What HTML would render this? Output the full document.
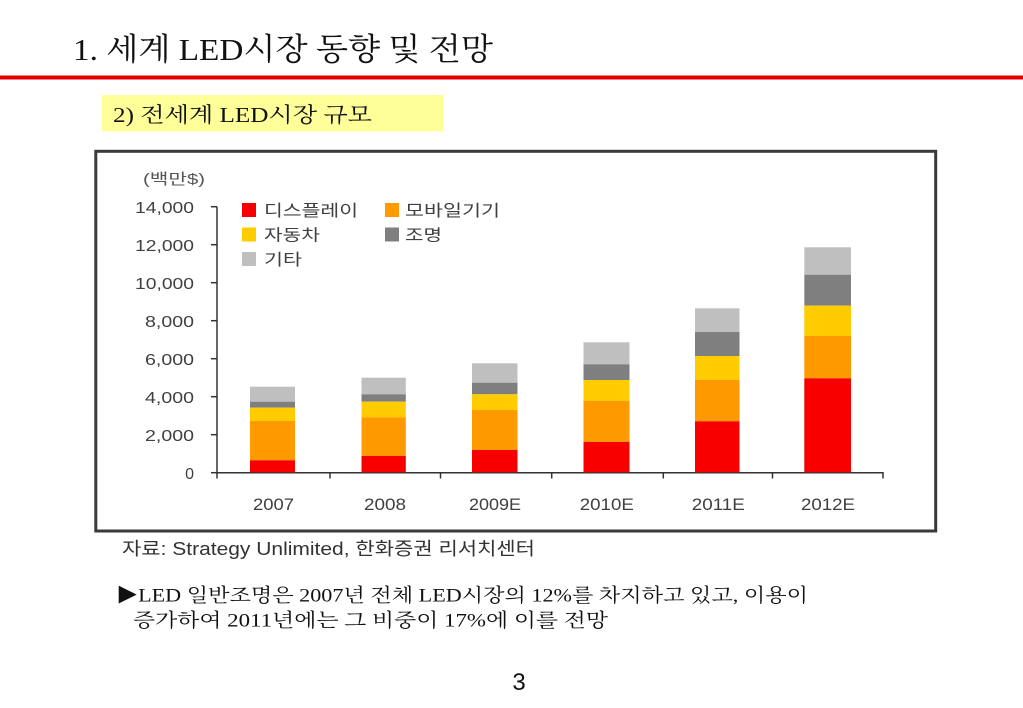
<!DOCTYPE html>
<html>
<head>
<meta charset="utf-8">
<style>
  html, body { margin:0; padding:0; background:#fff; }
  body { width:1023px; height:708px; overflow:hidden; }
  svg { display:block; }
  .serif { font-family: "Liberation Serif", "Noto Serif CJK SC", serif; }
  .sans { font-family: "Liberation Sans", "Noto Sans CJK KR", sans-serif; }
</style>
</head>
<body>
<svg width="1023" height="708" viewBox="0 0 1023 708" xmlns="http://www.w3.org/2000/svg">
  <rect x="0" y="0" width="1023" height="708" fill="#ffffff"/>

  <!-- Title -->
  <text class="serif" x="73" y="60" font-size="31" fill="#111" textLength="420" lengthAdjust="spacingAndGlyphs">1. 세계 LED시장 동향 및 전망</text>
  <rect x="0" y="75.5" width="1023" height="4" fill="#e40000"/>

  <!-- Subtitle box -->
  <rect x="102" y="95" width="341" height="36.5" fill="#ffff99"/>
  <text class="serif" x="113" y="122" font-size="21" fill="#111" textLength="259" lengthAdjust="spacingAndGlyphs">2) 전세계 LED시장 규모</text>

  <!-- Chart frame -->
  <rect x="95.8" y="151.3" width="839.9" height="379.7" fill="#ffffff" stroke="#3a3a3a" stroke-width="3"/>

  <!-- Unit label -->
  <text class="sans" x="143" y="184" font-size="15" fill="#555" textLength="62" lengthAdjust="spacingAndGlyphs">(백만$)</text>

  <!-- Y tick labels -->
  <g class="sans" font-size="16" fill="#404040" text-anchor="end">
    <text x="194" y="213" textLength="59" lengthAdjust="spacingAndGlyphs">14,000</text>
    <text x="194" y="251" textLength="59" lengthAdjust="spacingAndGlyphs">12,000</text>
    <text x="194" y="289" textLength="59" lengthAdjust="spacingAndGlyphs">10,000</text>
    <text x="194" y="327" textLength="49" lengthAdjust="spacingAndGlyphs">8,000</text>
    <text x="194" y="365" textLength="49" lengthAdjust="spacingAndGlyphs">6,000</text>
    <text x="194" y="403" textLength="49" lengthAdjust="spacingAndGlyphs">4,000</text>
    <text x="194" y="441" textLength="49" lengthAdjust="spacingAndGlyphs">2,000</text>
    <text x="194" y="479">0</text>
  </g>

  <!-- Axes -->
  <g stroke="#333" stroke-width="1.5" fill="none">
    <line x1="217" y1="206.7" x2="217" y2="473.3"/>
    <line x1="216.3" y1="472.7" x2="883.7" y2="472.7"/>
    <line x1="211" y1="206.7" x2="217" y2="206.7"/>
    <line x1="211" y1="244.7" x2="217" y2="244.7"/>
    <line x1="211" y1="282.7" x2="217" y2="282.7"/>
    <line x1="211" y1="320.7" x2="217" y2="320.7"/>
    <line x1="211" y1="358.7" x2="217" y2="358.7"/>
    <line x1="211" y1="396.7" x2="217" y2="396.7"/>
    <line x1="211" y1="434.7" x2="217" y2="434.7"/>
    <line x1="211" y1="472.7" x2="217" y2="472.7"/>
    <line x1="217" y1="472.7" x2="217" y2="478.5"/>
    <line x1="330" y1="472.7" x2="330" y2="478.5"/>
    <line x1="440.5" y1="472.7" x2="440.5" y2="478.5"/>
    <line x1="551.7" y1="472.7" x2="551.7" y2="478.5"/>
    <line x1="663.3" y1="472.7" x2="663.3" y2="478.5"/>
    <line x1="772.5" y1="472.7" x2="772.5" y2="478.5"/>
    <line x1="883" y1="472.7" x2="883" y2="478.5"/>
  </g>

  <!-- Bars -->
  <!-- 2007 -->
  <g>
    <rect x="250" y="386.7" width="45" height="15" fill="#bfbfbf"/>
    <rect x="250" y="401.7" width="45" height="6" fill="#7f7f7f"/>
    <rect x="250" y="407.7" width="45" height="13.3" fill="#ffcc00"/>
    <rect x="250" y="421" width="45" height="39.3" fill="#ff9900"/>
    <rect x="250" y="460.3" width="45" height="12" fill="#f80000"/>
  </g>
  <!-- 2008 -->
  <g>
    <rect x="361.5" y="377.7" width="44.3" height="16.6" fill="#bfbfbf"/>
    <rect x="361.5" y="394.3" width="44.3" height="7.4" fill="#7f7f7f"/>
    <rect x="361.5" y="401.7" width="44.3" height="15.6" fill="#ffcc00"/>
    <rect x="361.5" y="417.3" width="44.3" height="38.7" fill="#ff9900"/>
    <rect x="361.5" y="456" width="44.3" height="16.3" fill="#f80000"/>
  </g>
  <!-- 2009E -->
  <g>
    <rect x="472" y="363.3" width="45.5" height="19.4" fill="#bfbfbf"/>
    <rect x="472" y="382.7" width="45.5" height="11.6" fill="#7f7f7f"/>
    <rect x="472" y="394.3" width="45.5" height="15.7" fill="#ffcc00"/>
    <rect x="472" y="410" width="45.5" height="40" fill="#ff9900"/>
    <rect x="472" y="450" width="45.5" height="22.3" fill="#f80000"/>
  </g>
  <!-- 2010E -->
  <g>
    <rect x="583.5" y="342.3" width="46" height="22" fill="#bfbfbf"/>
    <rect x="583.5" y="364.3" width="46" height="15.7" fill="#7f7f7f"/>
    <rect x="583.5" y="380" width="46" height="20.7" fill="#ffcc00"/>
    <rect x="583.5" y="400.7" width="46" height="41.3" fill="#ff9900"/>
    <rect x="583.5" y="442" width="46" height="30.3" fill="#f80000"/>
  </g>
  <!-- 2011E -->
  <g>
    <rect x="695" y="308.3" width="44.5" height="23.7" fill="#bfbfbf"/>
    <rect x="695" y="332" width="44.5" height="24" fill="#7f7f7f"/>
    <rect x="695" y="356" width="44.5" height="24" fill="#ffcc00"/>
    <rect x="695" y="380" width="44.5" height="41.3" fill="#ff9900"/>
    <rect x="695" y="421.3" width="44.5" height="51" fill="#f80000"/>
  </g>
  <!-- 2012E -->
  <g>
    <rect x="804.3" y="247.3" width="46.7" height="27.4" fill="#bfbfbf"/>
    <rect x="804.3" y="274.7" width="46.7" height="31" fill="#7f7f7f"/>
    <rect x="804.3" y="305.7" width="46.7" height="30.3" fill="#ffcc00"/>
    <rect x="804.3" y="336" width="46.7" height="42.3" fill="#ff9900"/>
    <rect x="804.3" y="378.3" width="46.7" height="94" fill="#f80000"/>
  </g>

  <!-- X labels -->
  <g class="sans" font-size="17" fill="#404040" text-anchor="middle">
    <text x="273.5" y="510" textLength="41" lengthAdjust="spacingAndGlyphs">2007</text>
    <text x="385" y="510" textLength="42" lengthAdjust="spacingAndGlyphs">2008</text>
    <text x="495" y="510" textLength="52" lengthAdjust="spacingAndGlyphs">2009E</text>
    <text x="606.8" y="510" textLength="54" lengthAdjust="spacingAndGlyphs">2010E</text>
    <text x="718.3" y="510" textLength="53" lengthAdjust="spacingAndGlyphs">2011E</text>
    <text x="828" y="510" textLength="54" lengthAdjust="spacingAndGlyphs">2012E</text>
  </g>

  <!-- Legend -->
  <rect x="242" y="203" width="14" height="14" fill="#f80000"/>
  <rect x="385" y="203" width="14" height="14" fill="#ff9900"/>
  <rect x="242" y="227.5" width="14" height="14" fill="#ffcc00"/>
  <rect x="385" y="227.5" width="14" height="14" fill="#7f7f7f"/>
  <rect x="242" y="252" width="14" height="14" fill="#bfbfbf"/>
  <g class="sans" font-size="16" fill="#404040">
    <text x="264" y="216" textLength="94" lengthAdjust="spacingAndGlyphs">디스플레이</text>
    <text x="405" y="216" textLength="95" lengthAdjust="spacingAndGlyphs">모바일기기</text>
    <text x="264" y="240.5" textLength="56" lengthAdjust="spacingAndGlyphs">자동차</text>
    <text x="405" y="240.5" textLength="37" lengthAdjust="spacingAndGlyphs">조명</text>
    <text x="264" y="265" textLength="38" lengthAdjust="spacingAndGlyphs">기타</text>
  </g>

  <!-- Source -->
  <text class="sans" x="122" y="555" font-size="18" fill="#333" textLength="413" lengthAdjust="spacingAndGlyphs">자료: Strategy Unlimited, 한화증권 리서치센터</text>

  <!-- Footer text -->
  <text class="serif" x="116" y="601.5" font-size="19" fill="#111" textLength="692" lengthAdjust="spacingAndGlyphs">▶LED 일반조명은 2007년 전체 LED시장의 12%를 차지하고 있고, 이용이</text>
  <text class="serif" x="133" y="626.5" font-size="19" fill="#111" textLength="475" lengthAdjust="spacingAndGlyphs">증가하여  2011년에는 그 비중이 17%에 이를 전망</text>

  <!-- Page number -->
  <text class="sans" x="519" y="690" font-size="24" fill="#111" text-anchor="middle">3</text>
</svg>
</body>
</html>
